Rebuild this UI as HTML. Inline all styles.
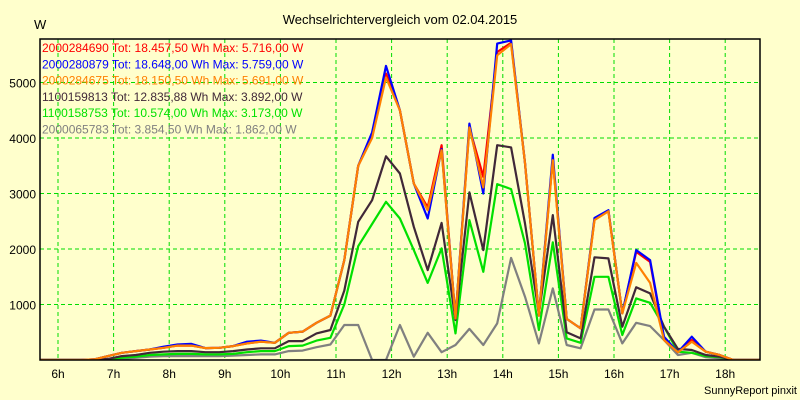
<!DOCTYPE html>
<html><head><meta charset="utf-8"><style>
body{margin:0;background:#ffffcc;}
svg{display:block;font-family:"Liberation Sans",sans-serif;}
</style></head><body>
<svg id="c" width="800" height="400" viewBox="0 0 800 400">
<rect x="0" y="0" width="800" height="400" fill="#ffffcc"/>
<text x="400" y="24" text-anchor="middle" font-size="13" fill="#000">Wechselrichtervergleich vom 02.04.2015</text>
<text x="34" y="29" font-size="13" fill="#000">W</text>
<text x="797" y="394" text-anchor="end" font-size="11" fill="#000">SunnyReport pinxit</text>
<defs><clipPath id="clip"><rect x="40" y="39" width="720" height="321"/></clipPath></defs>
<g id="grid"></g>
<g id="series" clip-path="url(#clip)"></g>
<rect x="40" y="39" width="720" height="321" fill="none" stroke="#000" stroke-width="1.5"/>
<g id="axes"></g>
<g id="legend"></g>
</svg>
<script>
const yTicks=[1000,2000,3000,4000,5000];
const xHours=[6,7,8,9,10,11,12,13,14,15,16,17,18];
const startTime=5.65, stepH=0.25;
const gray=[0,0,0,0,0,0,20,40,60,70,70,70,70,70,80,90,100,100,160,170,230,280,630,630,0,0,630,60,490,140,270,560,270,660,1840,1140,300,1290,270,210,910,910,300,670,610,360,90,130,50,30,0,0,0];
const green=[0,0,0,0,0,10,40,60,90,100,110,110,100,100,110,140,160,160,250,260,350,400,1000,2050,2450,2850,2550,1980,1390,2010,480,2520,1590,3170,3080,2100,540,2120,390,310,1500,1500,450,1110,1030,600,150,130,70,50,0,0,0];
const dark=[0,0,0,0,0,20,70,90,130,150,160,160,140,140,160,190,210,210,340,340,480,540,1250,2490,2880,3670,3360,2400,1620,2470,720,3020,1980,3870,3830,2460,840,2610,500,390,1850,1830,600,1310,1200,600,200,180,90,60,0,0,0];
const blue=[0,0,0,0,10,70,130,160,190,240,280,290,215,220,250,330,350,310,490,510,670,800,1800,3500,4100,5300,4500,3180,2550,3800,750,4260,3000,5700,5759,3550,800,3700,740,570,2560,2700,840,1980,1800,420,140,420,150,90,0,0,0];
const red=[0,0,0,0,10,70,130,160,190,220,260,260,215,220,250,300,330,310,490,510,670,800,1800,3500,4020,5160,4500,3180,2750,3870,750,4190,3300,5550,5716,3550,800,3620,740,570,2530,2690,840,1950,1770,380,140,360,150,90,0,0,0];
const orange=[0,0,0,0,10,70,130,160,190,220,260,260,215,220,250,300,330,310,490,510,670,800,1800,3500,4000,5090,4500,3180,2700,3780,750,4190,3110,5490,5690,3550,800,3600,740,570,2520,2680,840,1750,1390,360,140,330,150,90,0,0,0];
const legendLabels=["2000284690 Tot: 18.457,50 Wh Max: 5.716,00 W","2000280879 Tot: 18.648,00 Wh Max: 5.759,00 W","2000284675 Tot: 18.150,50 Wh Max: 5.691,00 W","1100159813 Tot: 12.835,88 Wh Max: 3.892,00 W","1100158753 Tot: 10.574,00 Wh Max: 3.173,00 W","2000065783 Tot: 3.854,50 Wh Max: 1.862,00 W"];
const legendColors=["#ff0000","#0000ff","#ff8000","#402838","#00e000","#808080"];

const NS="http://www.w3.org/2000/svg";
function xs(h){return 58+(h-6)*55.6;}
function ys(v){return 360-v*0.0555;}
function mk(tag,attrs,parent){const e=document.createElementNS(NS,tag);for(const k in attrs)e.setAttribute(k,attrs[k]);parent.appendChild(e);return e;}
const grid=document.getElementById('grid'),axes=document.getElementById('axes'),ser=document.getElementById('series'),leg=document.getElementById('legend');
yTicks.forEach(v=>{
  const l=mk('line',{x1:40,x2:760,y1:ys(v),y2:ys(v),stroke:'#00dd00','stroke-dasharray':'4,3'},grid);
  
  
  const t=mk('text',{x:36,y:ys(v)+5,'text-anchor':'end','font-size':12},axes);
  t.textContent=v;
  
  
});
xHours.forEach(h=>{
  const l=mk('line',{x1:xs(h),x2:xs(h),y1:39,y2:360,stroke:'#00dd00','stroke-dasharray':'4,3'},grid);
  
  
  const t=mk('text',{x:xs(h),y:378,'text-anchor':'middle','font-size':12},axes);
  t.textContent=h+'h';
  
  
});
const seriesList=[[gray,'#808080','series-2000065783'],[green,'#00e000','series-1100158753'],[dark,'#402838','series-1100159813'],[red,'#ff0000','series-2000284690'],[blue,'#0000ff','series-2000280879'],[orange,'#ff8000','series-2000284675']];
seriesList.forEach(s=>{
  const pts=s[0].map((v,i)=>xs(startTime+i*stepH).toFixed(1)+','+ys(v).toFixed(1)).join(' ');
  const p=mk('polyline',{points:pts,fill:'none',stroke:s[1],'stroke-width':2.2,'stroke-linejoin':'round'},ser);
  
  
});
legendLabels.forEach((txt,i)=>{
  const t=mk('text',{x:42,y:52+i*16.3,'font-size':12,fill:legendColors[i]},leg);
  t.textContent=txt;
  
  
});
</script>
</body></html>
